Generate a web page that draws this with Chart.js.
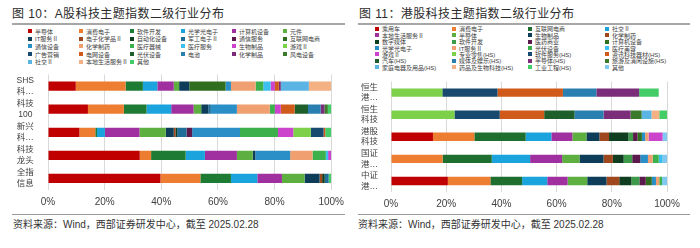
<!DOCTYPE html>
<html><head><meta charset="utf-8">
<script src="https://cdn.jsdelivr.net/npm/chart.js@4.4.1/dist/chart.umd.min.js"></script>
<style>
html,body{margin:0;padding:0;background:#fff;}
body{width:700px;height:248px;position:relative;overflow:hidden;font-family:"Liberation Sans","Noto Sans CJK SC",sans-serif;color:#333;}
.title{position:absolute;top:6px;font-size:12px;line-height:16px;color:#2b2b2b;letter-spacing:0.4px;white-space:nowrap;}
.rule{position:absolute;top:23px;height:2px;background:#a6a6a6;}
.frule{position:absolute;top:214px;height:1px;background:#9a9a9a;}
.src{position:absolute;top:219px;font-size:10px;line-height:12px;color:#333;white-space:nowrap;}
.legend{position:absolute;display:grid;}
.li{display:flex;align-items:center;font-size:6px;white-space:nowrap;color:#404040;overflow:visible;}
.sw{width:4px;height:4px;margin-right:3px;flex:none;}
canvas{position:absolute;}
</style></head>
<body>
<div class="title" style="left:12px">图 10：A股科技主题指数二级行业分布</div>
<div class="rule" style="left:12px;width:333px"></div>
<div class="legend" id="legL" style="left:28px;top:27.5px;grid-template-columns:repeat(6,51px);grid-auto-rows:7.6px;"></div>
<canvas id="cL" width="350" height="154" style="left:0;top:58px;width:350px;height:154px"></canvas>
<div class="frule" style="left:12px;width:333px"></div>
<div class="src" style="left:13px">资料来源：Wind，西部证券研发中心，截至 2025.02.28</div>

<div class="title" style="left:359px">图 11：港股科技主题指数二级行业分布</div>
<div class="rule" style="left:358px;width:332px"></div>
<div class="legend" id="legR" style="left:375px;top:25.5px;grid-template-columns:77px 76px 77px 80px;grid-auto-rows:6.45px;"></div>
<canvas id="cR" width="350" height="148" style="left:350px;top:66px;width:350px;height:148px"></canvas>
<div class="frule" style="left:358px;width:332px"></div>
<div class="src" style="left:358px">资料来源：Wind，西部证券研发中心，截至 2025.02.28</div>

<script>
// ---------- Data: left chart (A股) ----------
const leftCategories = [["SHS","科…"],["科技","100"],["新兴","科…"],["科技","龙头"],["全指","信息"]];
const leftIndustries = ["半导体","消费电子","软件开发","光学光电子","计算机设备","元件",
  "IT服务Ⅱ","电子化学品Ⅱ","自动化设备","军工电子Ⅱ","通信服务","互联网电商",
  "通信设备","化学制药","医疗器械","医疗服务","生物制品","游戏Ⅱ",
  "广告营销","电网设备","光伏设备","电池","化学制品","风电设备",
  "社交Ⅱ","本地生活服务Ⅱ","其他"];
const shsTech    = [9.8,17.6,6.1,5.1,5.8,1.9, 3.6,0,0,0,0,12.8, 1.9,8.7,2.7,2.6,1.5,0, 0,1.4,0,0,0.7,0, 9.9,7.9,0];
const tech100    = [14.1,12.7,8.0,8.7,7.9,2.7, 2.5,0,0,0.9,0,0, 9.2,11.6,1.8,0,2.1,0, 0,4.9,4.7,4.5,1.3,1.2, 0,0,1.2];
const emergingTech = [11.1,5.6,0.6,2.8,12.2,9.3, 2.8,0.6,0.6,3.3,2.0,0, 16.9,0,13.4,0,5.4,6.2, 4.5,0.6,0,0,0,0, 0,0,2.1];
const techLeaders = [32.4,4.0,12.2,6.8,11.3,5.6, 0.9,0,0,0,0,0, 12.3,7.9,4.7,0.8,1.1,0, 0,0,0,0,0,0, 0,0,0];
const allInfo    = [39.7,14.1,10.8,9.3,8.7,8.0, 5.3,0.9,0.9,1.4,0,0, 0,0,0,0,0,0, 0,0,0,0,0,0, 0,0,0.9];

// ---------- Data: right chart (港股) ----------
const rightCategories = [["恒生","港…"],["恒生","科技"],["港股","科技"],["国证","港…"],["中证","港…"]];
const rightIndustries = ["乘用车","消费电子","互联网电商","社交Ⅱ",
  "本地生活服务Ⅱ","半导体","生物制品","化学制药",
  "数字媒体","软件开发","医药商业","计算机设备",
  "光学光电子","IT服务Ⅱ","光伏设备","医疗美容",
  "游戏Ⅱ","专业零售(HS)","软件服务(HS)","资讯科技器材(HS)",
  "汽车(HS)","媒体及娱乐(HS)","半导体(HS)","旅游及消闲设施(HS)",
  "家庭电器及用品(HS)","药品及生物科技(HS)","工业工程(HS)","其他"];
const hsHK     = [0,0,0,0, 0,0,0,0, 0,0,0,0, 0,0,0,0, 0,18.6,20.0,23.7, 0,12.1,15.5,0, 0,0,7.1,0];
const hsTech   = [0,0,0,0, 0,0,0,0, 0,0,0,0, 0,0,0,0, 0,23.0,16.4,16.1, 11.0,10.5,9.8,4.0, 3.6,2.8,2.8,0];
const hkTech   = [15.2,15.0,18.6,9.3, 7.6,5.1,4.7,3.5, 7.0,1.7,1.6,1.6, 1.2,1.2,0,0, 5.1,0,0,0, 0,0,0,0, 0,0,0,1.6];
const gzHK     = [0,18.7,17.8,13.9, 11.6,6.3,8.7,3.4, 3.9,3.1,2.9,0, 2.8,1.7,2.2,1.2, 0,0,0,0, 0,0,0,0, 0,0,0,1.8];
const zzHK     = [20.6,15.4,11.5,9.1, 7.4,7.1,7.0,4.6, 4.4,2.9,2.3,2.2, 1.5,1.2,1.0,0, 0,0,0,0, 0,0,0,0, 0,0,0,1.8];

const xTickLabels = ["0%","20%","40%","60%","80%","100%"];

// ---------- Styles ----------
const leftColors = ["#C00000","#ED7D31","#1E7B34","#1AA3DC","#A0309F","#5DB040",
  "#0E3D5A","#A0481D","#0F3D1F","#1E6E99","#5B1A4B","#2E6E1E",
  "#2A8FC7","#F0A070","#3CB04A","#3CBFEF","#CC44CC","#7CD04A",
  "#174A6E","#D05A1A","#1D5E2A","#2980B0","#7B2D7A","#3A7A2A",
  "#5AB4E4","#F4B183","#44CC66"];
const rightColors = ["#C00000","#ED7D31","#1E6E30","#1AA3DC",
  "#A0309F","#5DB040","#0E3D5A","#A0481D",
  "#0F3D1F","#3C9A48","#5B1A4B","#2E6E1E",
  "#2A8FC7","#F0A070","#3CB04A","#3CBFEF",
  "#CC44CC","#7CD04A","#174A6E","#D05A1A",
  "#1D5E2A","#2980B0","#7B2D7A","#3A7A2A",
  "#5AB4E4","#F4B183","#44CC66","#7FC8F0"];

const FONT = '"Liberation Sans","Noto Sans CJK SC",sans-serif';

function buildLegend(id, names, colors){
  const el = document.getElementById(id);
  names.forEach((n,i)=>{
    const d = document.createElement('div'); d.className='li';
    const s = document.createElement('span'); s.className='sw'; s.style.background=colors[i];
    const t = document.createElement('span'); t.textContent=n;
    d.appendChild(s); d.appendChild(t); el.appendChild(d);
  });
}
buildLegend('legL', leftIndustries, leftColors);
buildLegend('legR', rightIndustries, rightColors);

function makeChart(id, cats, names, colors, rows, opts){
  const datasets = names.map((n,i)=>({
    label:n,
    data: rows.map(r=>r[i]),
    backgroundColor: colors[i],
    borderWidth:0,
    barPercentage: opts.barPct,
    categoryPercentage: 1
  }));
  return new Chart(document.getElementById(id),{
    type:'bar',
    data:{labels:cats, datasets},
    options:{
      indexAxis:'y', responsive:false, animation:false, devicePixelRatio:1,
      layout:{padding:{top:1,right:opts.padRight,left:0,bottom:0}},
      plugins:{legend:{display:false},tooltip:{enabled:false}},
      scales:{
        x:{stacked:true,min:0,max:100,
           ticks:{stepSize:20,padding:6,color:'#404040',font:{size:10,family:FONT},
                  callback:(v,i)=>xTickLabels[i]},
           grid:{color:'#d9d9d9',drawTicks:false,lineWidth:1},
           border:{display:false},
           afterFit(s){s.height=22;}},
        y:{stacked:true,
           ticks:{autoSkip:false,crossAlign:'center',padding:opts.yPad,color:'#404040',font:{size:8.5,family:FONT,lineHeight:1.25}},
           grid:{display:false},
           border:{display:false},
           afterFit(s){s.width=opts.yWidth;}}
      }
    }
  });
}
makeChart('cL', leftCategories, leftIndustries, leftColors,
  [shsTech, tech100, emergingTech, techLeaders, allInfo],
  {barPct:0.4, padRight:17, yWidth:48, yPad:6});
makeChart('cR', rightCategories, rightIndustries, rightColors,
  [hsHK, hsTech, hkTech, gzHK, zzHK],
  {barPct:0.38, padRight:33, yWidth:41, yPad:5});
</script>
</body></html>
